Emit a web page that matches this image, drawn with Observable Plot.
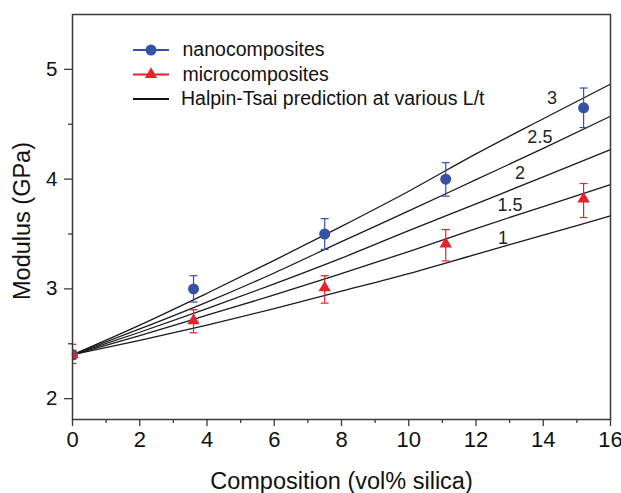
<!DOCTYPE html>
<html>
<head>
<meta charset="utf-8">
<script src="https://cdn.jsdelivr.net/npm/d3@7"></script>
<script src="https://cdn.jsdelivr.net/npm/@observablehq/plot@0.6"></script>
<style>
  html, body { margin: 0; padding: 0; background: #fff; }
  #chart { width: 621px; height: 493px; }
</style>
</head>
<body>
<div id="chart"></div>
<script>
// ---- data ----
const compX = [0, 3.6, 7.5, 11.1, 15.2];
const nanoY = [2.4, 3.0, 3.5, 4.0, 4.65];
const nanoLo = [2.36, 2.88, 3.36, 3.845, 4.47];
const nanoHi = [2.44, 3.12, 3.64, 4.15, 4.83];
const microY = [2.4, 2.71, 3.01, 3.41, 3.82];
const microLo = [2.32, 2.6, 2.87, 3.255, 3.65];
const microHi = [2.495, 2.81, 3.12, 3.54, 3.96];

const htX = [0, 2, 4, 6, 8, 10, 12, 14, 16];
const htLt1 = [2.4, 2.53, 2.67, 2.82, 2.98, 3.14, 3.315, 3.49, 3.665];
const htLt15 = [2.4, 2.575, 2.76, 2.945, 3.14, 3.34, 3.55, 3.75, 3.95];
const htLt2 = [2.4, 2.605, 2.82, 3.045, 3.28, 3.53, 3.775, 4.02, 4.268];
const htLt25 = [2.4, 2.635, 2.88, 3.145, 3.43, 3.71, 3.995, 4.28, 4.573];
const htLt3 = [2.4, 2.67, 2.96, 3.26, 3.57, 3.89, 4.23, 4.55, 4.866];
const htNames = ["1", "1.5", "2", "2.5", "3"];
const htLabelX = [12.8, 13.01, 13.31, 13.9, 14.26];
const htLabelY = [3.459, 3.76, 4.051, 4.385, 4.74];

const xTicks = [0, 2, 4, 6, 8, 10, 12, 14, 16];
const xMinor = [1, 3, 5, 7, 9, 11, 13, 15];
const yTicks = [2, 3, 4, 5];
const yMinor = [2.5, 3.5, 4.5];

const legendLabels = ["nanocomposites", "microcomposites", "Halpin-Tsai prediction at various L/t"];

// ---- build tables ----
const htSeries = [htLt1, htLt15, htLt2, htLt25, htLt3];
const htData = htSeries.flatMap((ys, k) => ys.map((y, i) => ({x: htX[i], y, s: htNames[k]})));
const nano = compX.map((x, i) => ({x, y: nanoY[i], lo: nanoLo[i], hi: nanoHi[i]}));
const micro = compX.map((x, i) => ({x, y: microY[i], lo: microLo[i], hi: microHi[i]}));
const htLabels = htNames.map((t, i) => ({x: htLabelX[i], y: htLabelY[i], t}));

const BLUE = "#3652a6", RED = "#e6232b", AX = "#3a3a3a";
const hline = {draw(ctx, size) { const w = Math.sqrt(size / Math.PI); ctx.moveTo(-w, 0); ctx.lineTo(w, 0); }};

function errorMarks(data, color) {
  return [
    Plot.ruleX(data, {x: "x", y1: "lo", y2: "hi", stroke: color, strokeWidth: 1.2, clip: true}),
    Plot.dot(data, {x: "x", y: "lo", symbol: hline, r: 4, stroke: color, fill: "none", strokeWidth: 1.2, clip: true}),
    Plot.dot(data, {x: "x", y: "hi", symbol: hline, r: 4, stroke: color, fill: "none", strokeWidth: 1.2, clip: true})
  ];
}

const legendColors = [BLUE, RED, "#111"];
const legendMarks = [];
legendLabels.forEach((lab, i) => {
  const dy = 35.5 + i * 24.5;
  legendMarks.push(Plot.dot([0], {frameAnchor: "top-left", dx: 78.5, dy, symbol: hline, r: 18, stroke: legendColors[i], strokeWidth: 2, fill: "none"}));
  if (i === 0) legendMarks.push(Plot.dot([0], {frameAnchor: "top-left", dx: 78.5, dy, r: 5.5, fill: BLUE}));
  if (i === 1) legendMarks.push(Plot.dot([0], {frameAnchor: "top-left", dx: 78.5, dy, symbol: "triangle", r: 4.6, fill: RED}));
  legendMarks.push(Plot.text([lab], {frameAnchor: "top-left", dx: i === 2 ? 108.5 : 110, dy, text: d => d, textAnchor: "start", lineAnchor: "middle", fontSize: 19.5, fill: "#111"}));
});

const chart = Plot.plot({
  width: 621,
  height: 493,
  marginLeft: 72,
  marginRight: 11,
  marginTop: 14,
  marginBottom: 74,
  x: {domain: [0, 16]},
  y: {domain: [1.81, 5.5]},
  style: {fontFamily: "'Liberation Sans', Arial, sans-serif", background: "#fff", color: "#111"},
  marks: [
    Plot.line(htData, {x: "x", y: "y", z: "s", stroke: "#1a1a1a", strokeWidth: 1.3, curve: "monotone-x"}),
    Plot.text(htLabels, {x: "x", y: "y", text: "t", fontSize: 18, fill: "#222"}),
    ...errorMarks(micro, RED),
    ...errorMarks(nano, BLUE),
    Plot.dot(nano, {x: "x", y: "y", r: 5.5, fill: BLUE, clip: true}),
    Plot.dot(micro, {x: "x", y: "y", symbol: "triangle", r: 4.6, fill: RED, clip: true}),
    Plot.frame({stroke: AX, strokeWidth: 1.5}),
    Plot.axisX({ticks: xTicks, tickSize: 7, tickPadding: 5, fontSize: 22, tickFormat: "d", label: null, stroke: AX, strokeWidth: 1.3}),
    Plot.axisX({ticks: xMinor, tickSize: 4, tickFormat: () => "", label: null, stroke: AX, strokeWidth: 1.3}),
    Plot.axisY({ticks: yTicks, tickSize: 8, tickPadding: 7, fontSize: 20.5, tickFormat: "d", label: null, stroke: AX, strokeWidth: 1.3}),
    Plot.axisY({ticks: yMinor, tickSize: 4, tickFormat: () => "", label: null, stroke: AX, strokeWidth: 1.3}),
    Plot.text(["Composition (vol% silica)"], {frameAnchor: "bottom", dy: 62, text: d => d, textAnchor: "middle", lineAnchor: "middle", fontSize: 23.5, fill: "#111"}),
    Plot.text(["Modulus (GPa)"], {frameAnchor: "left", dx: -50, dy: 4, rotate: -90, text: d => d, textAnchor: "middle", lineAnchor: "middle", fontSize: 23.5, letterSpacing: 1.2, fill: "#111"}),
    ...legendMarks
  ]
});
document.getElementById("chart").appendChild(chart);
</script>
</body>
</html>
